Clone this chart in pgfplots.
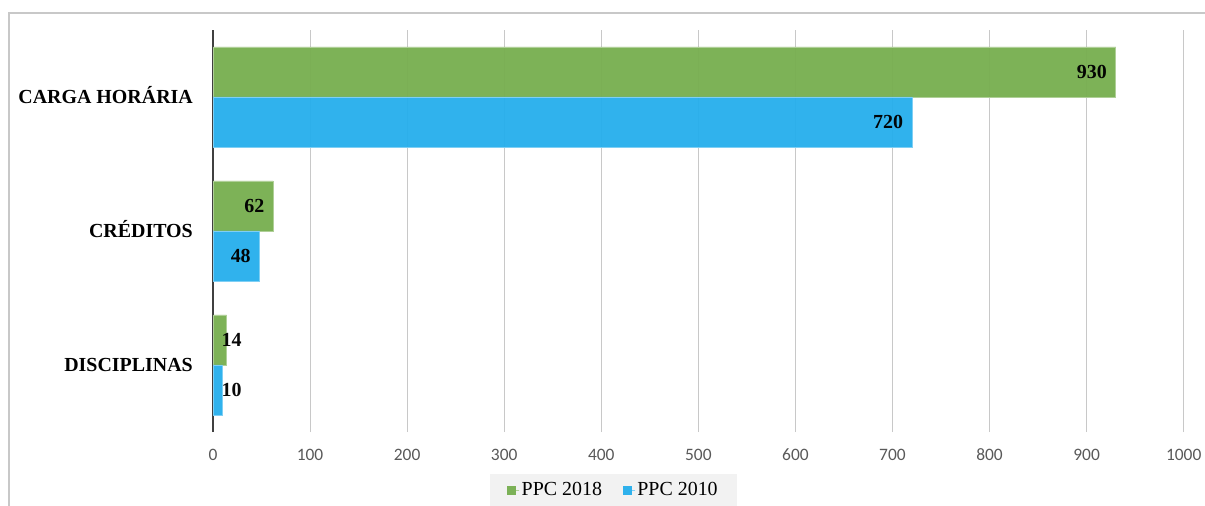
\documentclass[border=0pt]{standalone}
\usepackage{pgfplots}
\pgfplotsset{compat=1.18}
\usepackage{fontspec}
\setmainfont{Liberation Serif}
\newfontfamily\calib{Carlito}
\definecolor{ggreen}{HTML}{79AF52}
\definecolor{gblue}{HTML}{29AFEC}
\definecolor{gridc}{HTML}{C8C8C8}
\definecolor{tickc}{HTML}{595959}
\begin{document}
\begin{tikzpicture}
\path[use as bounding box] (0,0) rectangle (1205bp,506bp);
\draw[gridc, line width=1.2bp] (9bp,-10bp) -- (9bp,493bp) -- (1215bp,493bp);
\begin{axis}[
  at={(213bp,74bp)}, anchor=south west,
  width=970.7bp, height=402bp, scale only axis,
  xmin=0, xmax=1000, ymin=-0.5, ymax=2.5,
  xbar, bar width=50bp,
  axis y line*=left, axis x line*=bottom,
  x axis line style={draw=none},
  y axis line style={draw=black!75, line width=1.8bp},
  major tick length=0pt,
  xtick={0,100,...,1000},
  ytick={0,1,2},
  yticklabels={DISCIPLINAS, CRÉDITOS, CARGA HORÁRIA},
  xmajorgrids, grid style={gridc, line width=1bp},
  /pgf/number format/assume math mode=true,
  /pgf/number format/1000 sep={},
  xticklabel style={font=\calib\fontsize{17.5}{17.5}\selectfont, text=tickc, anchor=base, inner sep=0pt, yshift=-28.5bp},
  yticklabel style={font=\fontsize{20}{20}\selectfont\bfseries, text=black, anchor=base east, inner sep=0pt, xshift=-20bp, yshift=-6.6bp},
  nodes near coords={\pgfmathprintnumber{\pgfplotspointmeta}},
  visualization depends on={rawx \as \xv},
  every node near coord/.append style={font=\fontsize{20}{20}\selectfont\bfseries, text=black, anchor=base east, inner sep=0pt,
     yshift=-6.8bp, xshift={((\xv<30) ? (29-0.9707*\xv) : (-8.5))*1bp}},
  legend style={at={(0.4126,-0.1443)}, anchor=center, draw=none, fill=black!5,
     inner xsep=17bp, inner ysep=7bp,
     font=\fontsize{20}{20}\selectfont, legend columns=2,
     /tikz/every even column/.append style={column sep=19bp}},
  legend image code/.code={\fill[#1, draw=none] (0bp,-4.5bp) rectangle (9bp,4.5bp); \path (9bp,0) -- (12bp,0);},
]
\addplot[fill=ggreen, fill opacity=0.97, draw=ggreen!60!white, line width=0.8bp, bar shift=25bp]
  coordinates {(14,0) (62,1) (930,2)};
\addplot[fill=gblue, fill opacity=0.97, draw=gblue!60!white, line width=0.8bp, bar shift=-25bp]
  coordinates {(10,0) (48,1) (720,2)};
\legend{PPC 2018, PPC 2010}
\end{axis}
\end{tikzpicture}
\end{document}
